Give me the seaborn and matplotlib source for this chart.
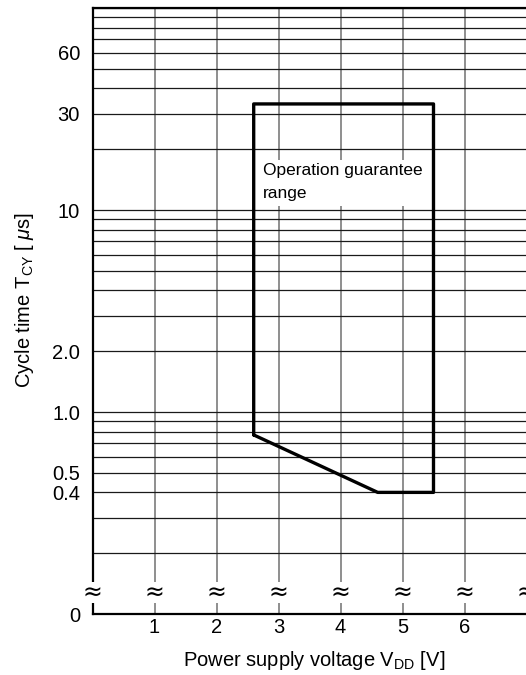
import numpy as np
import pandas as pd
import matplotlib
matplotlib.use("Agg")
import matplotlib.pyplot as plt
import seaborn as sns
from matplotlib.ticker import FixedLocator, FixedFormatter, NullFormatter

# Operation guarantee range outline (VDD [V], tCY [us])
boundary_vdd = [2.6, 2.6, 5.5, 5.5, 4.6, 2.6]
boundary_tcy = [0.77, 33.5, 33.5, 0.4, 0.4, 0.77]

# axis ticks
y_major = [0.1, 0.4, 0.5, 1.0, 2.0, 10, 30, 60]
y_major_labels = ["0", "0.4", "0.5", "1.0", "2.0", "10", "30", "60"]
y_minor = [0.2, 0.3, 0.6, 0.7, 0.8, 0.9,
           3, 4, 5, 6, 7, 8, 9,
           20, 40, 50, 70, 80, 90, 100]
x_major = [1, 2, 3, 4, 5, 6, 7]
x_major_labels = ["1", "2", "3", "4", "5", "6", ""]
break_x = [0, 1, 2, 3, 4, 5, 6, 7]

sns.set_style("white")
plt.rcParams['font.family'] = ['Liberation Sans', 'DejaVu Sans']
plt.rcParams['mathtext.fontset'] = 'custom'
plt.rcParams['mathtext.rm'] = 'Liberation Sans'
plt.rcParams['mathtext.it'] = 'Liberation Sans:italic'
for key in ['text.color', 'axes.labelcolor', 'xtick.color', 'ytick.color']:
    plt.rcParams[key] = 'black'

fig = plt.figure(figsize=(5.26, 6.75), dpi=100)
ax = fig.add_axes([92.5 / 526, 61 / 675, 434 / 526, 606 / 675])

df = pd.DataFrame({"vdd": boundary_vdd, "tcy": boundary_tcy})
sns.lineplot(data=df, x="vdd", y="tcy", sort=False, estimator=None,
             color="black", lw=2.4, ax=ax, zorder=4)

ax.set_yscale("log")
ax.set_xlim(0, 7)
ax.set_ylim(0.1, 100)

ax.yaxis.set_major_locator(FixedLocator(y_major))
ax.yaxis.set_major_formatter(FixedFormatter(y_major_labels))
ax.yaxis.set_minor_locator(FixedLocator(y_minor))
ax.yaxis.set_minor_formatter(NullFormatter())
ax.xaxis.set_major_locator(FixedLocator(x_major))
ax.xaxis.set_major_formatter(FixedFormatter(x_major_labels))

ax.set_axisbelow(True)
ax.yaxis.grid(True, which="both", color="#1a1a1a", lw=0.9)
ax.xaxis.grid(True, which="major", color="#707070", lw=1.1)
ax.tick_params(axis="both", which="both", length=0, labelsize=14.5)
ax.tick_params(axis="y", pad=9)
ax.tick_params(axis="x", pad=3)

for side in ["left", "bottom", "top"]:
    ax.spines[side].set_color("black")
    ax.spines[side].set_linewidth(1.6)
ax.spines["right"].set_visible(False)

# white label area inside the range
ax.fill_between([2.6, 5.5], 10.5, 17.7, color="white", zorder=1.5, lw=0)
ax.text(2.75, 17.0, "Operation guarantee\nrange", fontsize=12.5,
        ha="left", va="top", linespacing=1.6, zorder=3)

# axis break marks
for bx in break_x:
    ax.text(bx, 0.128, "\u2248", fontsize=17, ha="center", va="center",
            family="DejaVu Sans", clip_on=False, zorder=5,
            bbox=dict(fc="white", ec="none", pad=-1))

ax.set_xlabel(r"Power supply voltage V$_{\mathregular{DD}}$ [V]", fontsize=14.5)
ax.set_ylabel(r"Cycle time T$_{\mathregular{CY}}$ [ $\mathit{\mu}$s]", fontsize=14.5)
ax.yaxis.set_label_coords(-0.13, 0.518)
ax.xaxis.set_label_coords(0.51, -0.058)

fig.savefig("out.png", dpi=100)
